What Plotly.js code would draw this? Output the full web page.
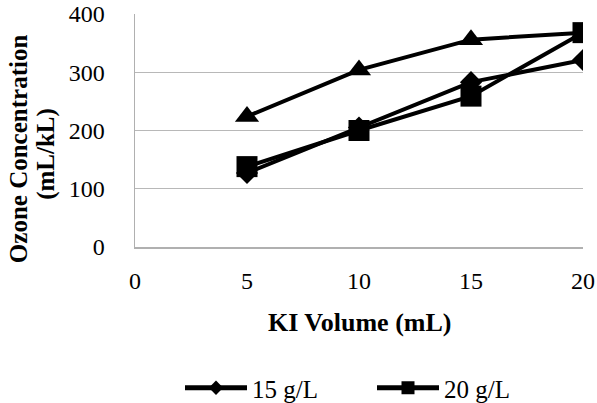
<!DOCTYPE html>
<html><head><meta charset="utf-8">
<script src="https://cdn.plot.ly/plotly-3.0.1.min.js"></script>
<style>html,body{margin:0;padding:0;background:#fff}#chart{width:597px;height:403px}</style>
</head><body><div id="chart"></div>
<script>
const kiVolume = [5, 10, 15, 20];
const series15 = [127, 205, 283, 321];
const series20 = [138, 200, 259, 368];
const series25 = [224, 304, 356, 368];
const names = ["15 g/L", "20 g/L", "25 g/L"];
const xTicks = [0, 5, 10, 15, 20];
const yTicks = [0, 100, 200, 300, 400];
const xTitle = "KI Volume (mL)";
const yTitleLines = ["Ozone Concentration", "(mL/kL)"];

const font = {family: "Liberation Serif, Times New Roman, serif", color: "#000"};
const line = {color: "#000", width: 4};
const f = s => Object.assign({size: s}, font);

const traces = [
  {x: kiVolume, y: series25, name: names[2], mode: "lines+markers", line: line,
   marker: {symbol: "triangle-up", size: 21, color: "#000"}, showlegend: false},
  {x: kiVolume, y: series15, name: names[0], mode: "lines+markers", line: line,
   marker: {symbol: "diamond", size: 17, color: "#000"}, showlegend: false},
  {x: kiVolume, y: series20, name: names[1], mode: "lines+markers", line: line,
   marker: {symbol: "square", size: 21, color: "#000"}, showlegend: false},
  // legend-only entries (no data) with small legend markers
  {x: [null], y: [null], name: names[0], mode: "lines+markers", line: {color: "#000", width: 5},
   marker: {symbol: "diamond", size: 11, color: "#000"}},
  {x: [null], y: [null], name: names[1], mode: "lines+markers", line: {color: "#000", width: 5},
   marker: {symbol: "square", size: 13, color: "#000"}}
];

const layout = {
  width: 597, height: 403,
  margin: {l: 135, r: 14, t: 14, b: 156},
  paper_bgcolor: "#fff", plot_bgcolor: "#fff",
  font: f(24),
  showlegend: true,
  legend: {orientation: "h", x: 180 / 597, xref: "container", xanchor: "left",
           y: 15 / 403, yref: "container", yanchor: "middle",
           font: f(25), traceorder: "normal", itemwidth: 62, bgcolor: "rgba(0,0,0,0)",
           entrywidth: 115, entrywidthmode: "pixels"},
  xaxis: {range: [0, 20], tickvals: xTicks, showgrid: false, zeroline: false,
          showline: true, linecolor: "#b0b0b0", linewidth: 1.5, ticks: "", ticklabelstandoff: 12,
          tickfont: f(24)},
  yaxis: {range: [0, 400], tickvals: yTicks, showgrid: true, gridcolor: "#b8b8b8",
          gridwidth: 1.2, zeroline: false, showline: true, linecolor: "#b0b0b0", linewidth: 1.5,
          ticks: "", ticklabelstandoff: 24, tickfont: f(24)},
  annotations: [
    {text: "<b>" + xTitle + "</b>", xref: "paper", yref: "paper", x: 0.5, y: -0.326,
     xanchor: "center", yanchor: "middle", showarrow: false, font: f(26)},
    {text: "<b>" + yTitleLines[0] + "</b>", xref: "paper", yref: "paper", x: 0, xshift: -117,
     y: 0.42, xanchor: "center", yanchor: "middle", textangle: -90, showarrow: false, font: f(25)},
    {text: "<b>" + yTitleLines[1] + "</b>", xref: "paper", yref: "paper", x: 0, xshift: -89,
     y: 0.40, xanchor: "center", yanchor: "middle", textangle: -90, showarrow: false, font: f(25)}
  ]
};

Plotly.newPlot("chart", traces, layout, {displayModeBar: false, staticPlot: true});
</script></body></html>
